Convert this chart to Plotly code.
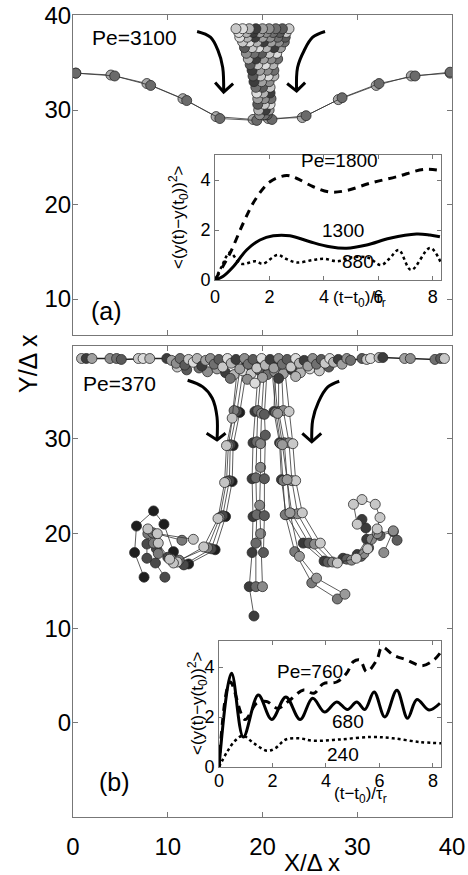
import plotly.graph_objects as go

W, H = 468, 875

# ---------------- panel (a) data ----------------
chain_a1_x = [0.3, 4.0, 7.8, 11.6, 15.1, 19.0, 20.6, 24.2, 28.0, 32.0, 35.7, 39.8]
chain_a1_y = [33.9, 33.7, 32.8, 31.2, 29.3, 29.0, 29.1, 29.2, 31.1, 32.6, 33.6, 33.9]
chain_a2_x = [0.3, 4.4, 8.2, 12.0, 15.5, 19.4, 21.0, 24.6, 28.4, 32.3, 36.1, 39.8]
chain_a2_y = [33.9, 33.6, 32.6, 31.0, 29.1, 28.9, 29.0, 29.4, 31.3, 32.8, 33.6, 34.0]

funnel_rows = [
    (38.6, [17.2, 17.9, 18.6, 19.3, 20.0, 20.7, 21.4, 22.1, 22.8]),
    (38.2, [17.5, 18.3, 19.0, 19.7, 20.4, 21.1, 21.8, 22.5]),
    (37.7, [17.6, 18.4, 19.2, 20.0, 20.8, 21.6, 22.4]),
    (37.2, [17.9, 18.6, 19.4, 20.1, 20.9, 21.7, 22.3]),
    (36.6, [18.1, 18.9, 19.6, 20.4, 21.2, 21.9]),
    (36.0, [18.3, 19.1, 19.9, 20.7, 21.5]),
    (35.4, [18.5, 19.3, 20.1, 20.9, 21.6]),
    (34.8, [18.7, 19.5, 20.3, 21.1]),
    (34.2, [18.9, 19.7, 20.5, 21.2]),
    (33.6, [19.0, 19.8, 20.6, 21.2]),
    (33.0, [19.1, 19.9, 20.7]),
    (32.4, [19.3, 20.0, 20.8]),
    (31.8, [19.4, 20.1, 20.8]),
    (31.2, [19.5, 20.2, 20.9]),
    (30.6, [19.5, 20.2, 20.8]),
    (30.0, [19.6, 20.3, 20.7]),
    (29.5, [19.7, 20.2, 20.5]),
]

arrow_a_left_x = [13.1, 14.5, 15.3, 15.8, 15.9]
arrow_a_left_y = [38.3, 37.7, 36.3, 34.5, 31.9]
head_a_left_x = [15.0, 15.9, 16.9]
head_a_left_y = [32.9, 31.9, 32.8]
arrow_a_right_x = [26.6, 25.3, 24.4, 23.7, 23.6]
arrow_a_right_y = [38.3, 37.7, 36.3, 34.5, 32.0]
head_a_right_x = [22.6, 23.6, 24.5]
head_a_right_y = [32.8, 32.0, 32.9]

# ---------------- panel (b) data ----------------
top_x = [0.9, 1.4, 2.0, 3.9, 4.6, 5.1, 6.9, 7.4, 8.1, 9.9, 10.4, 10.9, 11.3, 11.8, 12.2,
         12.7, 13.1, 13.6, 14.0, 14.5, 14.9, 15.4, 15.8, 16.3, 16.7, 17.2, 17.6, 18.1,
         18.5, 19.0, 19.4, 19.9, 20.3, 20.8, 21.2, 21.7, 22.1, 22.6, 23.0, 23.5, 23.9,
         24.4, 24.8, 25.3, 25.7, 26.2, 26.6, 27.1, 27.5, 28.0, 28.4, 28.9, 29.3, 30.5,
         31.0, 31.4, 32.3, 32.7, 35.0, 35.6, 38.2, 38.8, 39.2]
top_y = [38.5, 38.5, 38.5, 38.5, 38.5, 38.4, 38.5, 38.5, 38.5, 38.5, 38.3, 38.0, 38.5,
         37.8, 38.4, 38.1, 38.5, 37.7, 38.3, 38.5, 37.9, 38.4, 37.6, 38.5, 38.0, 38.4,
         37.4, 38.5, 37.9, 38.4, 37.5, 38.5, 37.8, 38.4, 37.5, 38.5, 37.9, 38.4, 37.6,
         38.5, 38.0, 38.3, 37.7, 38.5, 37.9, 38.4, 38.0, 38.5, 38.1, 38.4, 37.9, 38.5,
         38.3, 38.5, 38.4, 38.5, 38.6, 38.6, 38.5, 38.5, 38.4, 38.5, 38.5]
under_x = [11.0, 12.0, 13.3, 14.2, 15.2, 16.1, 17.0, 17.9, 18.8, 19.6, 20.5, 21.3, 22.2,
           23.1, 24.0, 25.0, 26.0, 27.0, 16.6, 18.4, 20.0, 21.7, 23.5, 19.2]
under_y = [37.6, 37.3, 37.5, 37.1, 37.4, 37.0, 36.8, 37.2, 36.9, 37.3, 36.8, 37.1, 36.9,
           37.3, 37.0, 37.4, 37.2, 37.6, 36.4, 36.3, 36.5, 36.4, 36.6, 35.9]

strands = [
    # left strand group
    ([18.4, 17.6, 16.9, 16.8, 16.1, 15.0, 12.2, 10.6, 9.6, 8.5, 6.7, 6.5, 7.5],
     [37.8, 32.8, 29.3, 25.5, 21.8, 18.3, 16.8, 18.1, 21.0, 22.4, 20.8, 18.0, 15.4]),
    ([18.0, 17.3, 16.6, 16.5, 15.8, 14.6, 11.7, 10.0, 8.8, 7.8, 7.8, 8.7, 9.7],
     [37.6, 32.9, 29.4, 25.6, 21.9, 18.4, 16.7, 17.5, 18.4, 18.9, 17.4, 16.9, 15.4]),
    ([17.7, 17.0, 16.4, 16.2, 15.5, 14.2, 11.2, 10.4, 9.0, 8.5, 7.9, 8.4, 11.5],
     [37.9, 33.0, 29.3, 25.5, 21.7, 18.5, 17.2, 17.3, 17.9, 19.0, 20.0, 20.1, 19.3]),
    ([17.4, 16.8, 16.2, 16.0, 15.3, 13.8, 11.0, 10.6, 10.2, 9.0, 7.9, 8.9, 12.7],
     [38.0, 32.2, 29.3, 25.4, 21.6, 18.6, 17.0, 16.9, 17.3, 19.0, 20.5, 20.0, 19.4]),
    # central strand group
    ([19.6, 19.2, 19.0, 18.9, 19.0, 18.9, 18.6, 19.1],
     [38.0, 32.9, 29.6, 25.8, 21.8, 18.0, 14.4, 11.3]),
    ([19.9, 19.5, 19.4, 19.3, 19.4, 19.3, 19.3],
     [37.6, 33.0, 29.7, 25.9, 22.0, 19.0, 14.4]),
    ([20.2, 19.9, 19.8, 19.8, 19.7, 19.8, 20.0],
     [37.4, 32.7, 29.5, 27.0, 23.0, 20.0, 14.4]),
    ([20.5, 20.2, 20.3, 20.2, 20.2, 20.1],
     [37.7, 32.6, 30.4, 25.8, 21.9, 18.0]),
    # right strand group
    ([21.4, 21.2, 21.8, 22.0, 22.5, 24.3, 26.5, 28.5, 30.0, 31.0, 30.9, 30.5],
     [37.8, 32.9, 29.6, 25.7, 22.0, 19.0, 17.1, 17.4, 17.8, 19.4, 20.6, 21.5]),
    ([21.7, 21.7, 22.3, 22.6, 23.1, 24.9, 26.9, 28.9, 30.4, 31.2, 32.4, 33.8, 34.2],
     [37.6, 32.9, 29.6, 25.7, 22.1, 19.0, 17.0, 17.3, 17.6, 18.5, 19.8, 20.2, 19.3]),
    ([22.0, 22.2, 22.8, 23.1, 23.7, 25.5, 27.4, 29.4, 30.7, 31.5, 32.1, 33.8, 32.8],
     [37.5, 33.0, 29.6, 25.6, 22.1, 18.9, 17.0, 17.2, 17.9, 19.4, 20.0, 20.3, 18.0]),
    ([22.3, 22.8, 23.2, 23.5, 24.2, 26.1, 27.9, 29.9, 31.1, 32.1, 32.4, 31.9, 30.5, 29.6, 30.0],
     [37.8, 32.9, 29.5, 25.6, 22.2, 19.0, 16.9, 17.4, 18.4, 20.5, 21.7, 23.1, 23.6, 23.1, 21.0]),
    # outer right descending
    ([21.0, 21.4, 21.9, 22.2, 22.4, 23.4, 25.2, 27.9],
     [37.4, 32.8, 29.5, 25.6, 22.0, 18.1, 14.8, 13.1]),
    ([21.2, 21.6, 22.1, 22.6, 22.9, 23.9, 25.7, 28.7],
     [37.2, 32.7, 29.4, 25.7, 22.2, 17.6, 15.3, 13.6]),
]

arrow_b_left_x = [12.1, 13.7, 14.7, 15.2, 15.2]
arrow_b_left_y = [36.2, 35.5, 34.3, 32.3, 29.9]
head_b_left_x = [14.1, 15.2, 16.1]
head_b_left_y = [30.6, 29.9, 30.6]
arrow_b_right_x = [28.1, 26.9, 25.9, 25.3, 25.2]
arrow_b_right_y = [36.1, 35.5, 33.9, 32.0, 29.7]
head_b_right_x = [24.2, 25.2, 26.2]
head_b_right_y = [30.6, 29.7, 30.6]

# ---------------- inset data ----------------
ia_dash_t = [0, 0.55, 1.04, 1.47, 2.02, 2.63, 2.99, 3.61, 4.22, 4.83, 5.69, 6.67, 7.65, 8.26]
ia_dash_v = [0, 1.07, 2.28, 3.2, 3.93, 4.18, 4.07, 3.73, 3.52, 3.58, 3.87, 4.13, 4.42, 4.38]
ia_solid_t = [0, 0.3, 0.67, 1.16, 1.65, 2.14, 2.75, 3.49, 4.22, 4.83, 5.57, 6.42, 7.4, 7.89, 8.26]
ia_solid_v = [0, 0.15, 0.53, 1.2, 1.6, 1.77, 1.77, 1.53, 1.33, 1.27, 1.4, 1.67, 1.84, 1.8, 1.73]
ia_dot_t = [0, 0.25, 0.55, 0.95, 1.5, 1.75, 2.3, 2.6, 3.0, 3.6, 4.0, 4.5, 5.0, 5.6, 6.1, 6.4, 6.75, 7.2, 7.9, 8.3]
ia_dot_v = [0, 0.55, 1.1, 0.65, 0.75, 0.65, 1.0, 0.85, 0.7, 0.8, 0.85, 0.75, 0.9, 0.9, 0.6, 0.85, 1.2, 0.4, 1.28, 0.68]

ib_solid_t = [0, 0.47, 0.91, 1.47, 1.97, 2.5, 3.03, 3.5, 3.95, 4.4, 4.8, 5.15, 5.45, 5.8, 6.2, 6.65, 7.05, 7.4, 7.85, 8.26]
ib_solid_v = [0, 3.75, 1.2, 2.88, 1.9, 2.8, 1.9, 2.75, 2.2, 2.6, 2.3, 2.6, 2.3, 3.0, 2.0, 3.07, 1.95, 2.7, 2.28, 2.55]
ib_dash_t = [0, 0.42, 0.97, 1.41, 1.78, 2.2, 2.65, 3.16, 3.55, 3.9, 4.4, 4.77, 5.02, 5.27, 5.52, 5.9, 6.1, 6.52, 7.02, 7.6, 8.05, 8.26]
ib_dash_v = [0, 3.4, 1.9, 2.55, 2.62, 2.35, 2.68, 3.08, 2.95, 3.33, 3.4, 3.75, 4.21, 4.28, 3.81, 4.28, 4.8, 4.48, 4.28, 4.05, 4.3, 4.55]
ib_dot_t = [0, 0.3, 0.6, 0.9, 1.3, 1.8, 2.1, 2.5, 3.0, 3.5, 4.5, 5.7, 6.5, 7.5, 8.3]
ib_dot_v = [0, 0.6, 1.05, 1.25, 0.95, 0.65, 0.75, 1.1, 1.15, 1.05, 1.1, 1.2, 1.15, 1.0, 0.95]

grays = ['#c8c8c8', '#8e8e8e', '#b4b4b4', '#5a5a5a', '#a0a0a0', '#dcdcdc', '#707070', '#3c3c3c']
strand_colors = ['#1e1e1e', '#4a4a4a', '#7a7a7a', '#c4c4c4',
                 '#3c3c3c', '#6a6a6a', '#8a8a8a', '#5a5a5a',
                 '#3a3a3a', '#5e5e5e', '#8c8c8c', '#c8c8c8',
                 '#7a7a7a', '#9a9a9a']

FONT = 'Liberation Sans, Arial, sans-serif'
EDGE = '#2a2a2a'
MS = 10

fig = go.Figure()


def pts(x, y, color, xa, ya, lines=True, lw=0.8, lc='#333'):
    fig.add_trace(go.Scatter(
        x=x, y=y, xaxis=xa, yaxis=ya,
        mode='lines+markers' if lines else 'markers',
        line=dict(color=lc, width=lw),
        marker=dict(size=MS, color=color, line=dict(color=EDGE, width=0.8)),
        showlegend=False, hoverinfo='skip'))


def curve(x, y, xa, ya, width=3, dash='solid', shape='spline'):
    fig.add_trace(go.Scatter(
        x=x, y=y, xaxis=xa, yaxis=ya, mode='lines',
        line=dict(color='black', width=width, dash=dash, shape=shape),
        showlegend=False, hoverinfo='skip'))


# panel (a)
pts(chain_a1_x, chain_a1_y, '#a8a8a8', 'x', 'y')
pts(chain_a2_x, chain_a2_y, '#6a6a6a', 'x', 'y')
fx, fy, fc = [], [], []
k = 0
for yy, xs in funnel_rows:
    for xx in xs:
        fx.append(xx)
        fy.append(yy)
        fc.append(grays[(k * 5) % len(grays)])
        k += 1
fig.add_trace(go.Scatter(x=fx[::-1], y=fy[::-1], mode='markers', xaxis='x', yaxis='y',
                         marker=dict(size=MS, color=fc[::-1], line=dict(color=EDGE, width=0.8)),
                         showlegend=False, hoverinfo='skip'))
curve(arrow_a_left_x, arrow_a_left_y, 'x', 'y')
curve(head_a_left_x, head_a_left_y, 'x', 'y', shape='linear')
curve(arrow_a_right_x, arrow_a_right_y, 'x', 'y')
curve(head_a_right_x, head_a_right_y, 'x', 'y', shape='linear')

# panel (b)
for i, (sx, sy) in enumerate(strands):
    pts(sx, sy, strand_colors[i % len(strand_colors)], 'x2', 'y2')
uc = [grays[(i * 3) % len(grays)] for i in range(len(under_x))]
fig.add_trace(go.Scatter(x=under_x, y=under_y, mode='markers', xaxis='x2', yaxis='y2',
                         marker=dict(size=MS, color=uc, line=dict(color=EDGE, width=0.8)),
                         showlegend=False, hoverinfo='skip'))
tc = [grays[(i * 5 + 2) % len(grays)] for i in range(len(top_x))]
fig.add_trace(go.Scatter(x=top_x, y=top_y, mode='lines+markers', xaxis='x2', yaxis='y2',
                         line=dict(color='#222', width=1.5),
                         marker=dict(size=MS, color=tc, line=dict(color=EDGE, width=0.8)),
                         showlegend=False, hoverinfo='skip'))
curve(arrow_b_left_x, arrow_b_left_y, 'x2', 'y2')
curve(head_b_left_x, head_b_left_y, 'x2', 'y2', shape='linear')
curve(arrow_b_right_x, arrow_b_right_y, 'x2', 'y2')
curve(head_b_right_x, head_b_right_y, 'x2', 'y2', shape='linear')

# insets
curve(ia_dash_t, ia_dash_v, 'x3', 'y3', width=3, dash='8px,6px')
curve(ia_solid_t, ia_solid_v, 'x3', 'y3', width=3)
curve(ia_dot_t, ia_dot_v, 'x3', 'y3', width=2.5, dash='dot')
curve(ib_dash_t, ib_dash_v, 'x4', 'y4', width=3, dash='8px,6px')
curve(ib_solid_t, ib_solid_v, 'x4', 'y4', width=3)
curve(ib_dot_t, ib_dot_v, 'x4', 'y4', width=2.5, dash='dot')


def px(v):
    return v / W


def py(v):
    return 1 - v / H


frame = dict(showline=True, linecolor='#777', linewidth=1, mirror='ticks', ticks='inside',
             ticklen=5, tickcolor='#777', showgrid=False, zeroline=False, automargin=False,
             tickfont=dict(family=FONT, size=24, color='black'))
inset = dict(showline=True, linecolor='#777', linewidth=1, mirror='ticks', ticks='inside',
             ticklen=4, tickcolor='#777', showgrid=False, zeroline=False, automargin=False,
             tickfont=dict(family=FONT, size=18, color='black'))

fig.update_layout(
    width=W, height=H, margin=dict(l=0, r=0, t=0, b=0),
    paper_bgcolor='white', plot_bgcolor='white',
    xaxis=dict(frame, domain=[px(73), px(452)], range=[0, 40], tickvals=[0, 10, 20, 30, 40],
               showticklabels=False, anchor='y'),
    yaxis=dict(frame, domain=[py(335), py(15)], range=[6.2, 40.05], tickvals=[10, 20, 30, 40],
               anchor='x', ticklabelstandoff=-4),
    xaxis2=dict(frame, domain=[px(73), px(452)], range=[0, 40], tickvals=[0, 10, 20, 30, 40],
                anchor='y2', ticklabelstandoff=8),
    yaxis2=dict(frame, domain=[py(817), py(346)], range=[-9.93, 39.82], tickvals=[0, 10, 20, 30],
                anchor='x2', ticklabelstandoff=-4),
    xaxis3=dict(inset, domain=[px(215), px(441)], range=[0, 8.3], tickvals=[0, 2, 4, 6, 8],
                anchor='y3'),
    yaxis3=dict(inset, domain=[py(280), py(155)], range=[0, 5.0], tickvals=[0, 2, 4],
                anchor='x3'),
    xaxis4=dict(inset, domain=[px(219), px(441)], range=[0, 8.3], tickvals=[0, 2, 4, 6, 8],
                anchor='y4', ticklabelstandoff=-3),
    yaxis4=dict(inset, domain=[py(767), py(641)], range=[0, 5.04], tickvals=[0, 2, 4],
                anchor='x4'),
)

ann = []


def text(t, x, y, size, angle=0):
    ann.append(dict(text=t, x=px(x), y=py(y), xref='paper', yref='paper', showarrow=False,
                    font=dict(family=FONT, size=size, color='black'), textangle=angle,
                    xanchor='center', yanchor='middle'))


ytitle = '&lt;(y(t)\u2212y(t<sub>0</sub>))<sup>2</sup>&gt;'
xtitle = '(t\u2212t<sub>0</sub>)/\u03c4<sub>r</sub>'
text('Pe=3100', 134, 38, 21)
text('(a)', 106, 311, 25)
text('Pe=370', 120, 383, 21)
text('(b)', 114, 782, 25)
text('Y/\u0394 x', 28, 364, 25, -90)
text('X/\u0394 x', 312, 862, 24)
text('Pe=1800', 339, 161, 19)
text('1300', 343, 230, 19)
text('880', 358, 262, 19)
text(xtitle, 359, 299, 17)
text(ytitle, 178, 217, 17, -90)
text('Pe=760', 310, 671, 19)
text('680', 348, 721, 19)
text('240', 343, 754, 19)
text(xtitle, 360, 795, 17)
text(ytitle, 197, 703, 17, -90)
fig.update_layout(annotations=ann)

fig.write_html('out.html', config={'displayModeBar': False},
               post_script="document.body.style.margin='0';document.body.style.overflow='hidden';")
